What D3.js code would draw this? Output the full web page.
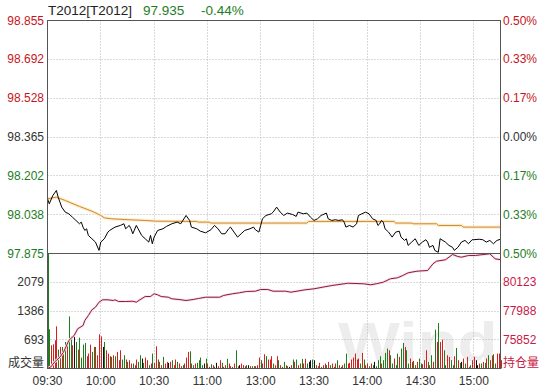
<!DOCTYPE html>
<html><head><meta charset="utf-8">
<script src="https://cdn.jsdelivr.net/npm/d3@7/dist/d3.min.js"></script>
<style>html,body{margin:0;padding:0;background:#fff;}svg{display:block;font-family:"Liberation Sans",Arial,sans-serif;}</style>
</head><body>
<svg id="c" width="548" height="389"></svg>
<script>
// ---------- data ----------
const titleCode = "T2012[T2012]";
const lastPrice = "97.935";
const lastChange = "-0.44%";
const priceTicks = [98.855, 98.692, 98.528, 98.365, 98.202, 98.038, 97.875];
const pctLabels = ["0.50%","0.33%","0.17%","0.00%","0.17%","0.33%","0.50%"];
const volTicks = [693, 1386, 2079];
const oiTicks = [75852, 77988, 80123];
const timeLabels = ["09:30","10:00","10:30","11:00","13:00","13:30","14:00","14:30","15:00"];
const timeIdx = [0,30,60,90,120,150,180,210,240];

// price line vertices [minute index, price]
const priceIdx = [0,1,3,5,6,8,10,12,14,16,18,19,20,21,22,23,25,27,29,30,32,34,35,38,41,43,44,46,47,48,50,51,53,55,57,58,59,60,62,65,67,70,73,75,78,80,81,84,86,89,92,94,96,98,100,102,103,105,107,109,111,114,116,117,119,120,121,123,126,127,129,131,133,135,138,140,141,144,146,148,150,152,154,157,158,160,162,164,166,167,168,170,172,174,175,177,179,181,183,185,186,187,188,189,190,192,194,196,198,199,201,202,203,205,207,209,211,213,214,215,217,218,220,221,224,226,228,229,231,233,235,237,239,240,243,245,247,249,251,253,255];
const priceVal = [98.105,98.084,98.119,98.140,98.112,98.070,98.049,98.042,98.028,98.014,98.000,98.007,97.986,97.972,97.979,97.951,97.937,97.923,97.888,97.923,97.937,97.965,97.972,97.986,97.993,98.000,97.979,97.993,97.979,97.958,97.993,97.979,97.951,97.937,97.923,97.951,97.916,97.944,97.972,97.979,97.989,98.000,98.007,98.000,98.035,98.014,97.986,97.979,97.969,97.962,97.975,97.993,97.979,97.958,97.958,97.979,97.986,97.965,97.944,97.958,97.972,97.979,97.986,97.975,97.965,97.993,98.021,98.035,98.042,98.049,98.070,98.049,98.035,98.045,98.039,98.031,98.049,98.042,98.045,98.028,98.014,98.021,98.035,98.045,98.021,98.014,98.017,98.014,98.017,98.007,97.986,97.993,97.986,98.000,98.035,98.042,98.049,98.042,98.021,98.014,97.993,98.000,98.014,98.007,97.979,97.965,97.944,97.965,97.969,97.944,97.930,97.937,97.909,97.923,97.937,97.909,97.923,97.933,97.923,97.901,97.909,97.888,97.880,97.937,97.923,97.909,97.901,97.888,97.901,97.923,97.930,97.916,97.933,97.933,97.935,97.933,97.923,97.930,97.916,97.930,97.935];

// average price line vertices
const avgIdx = [0,5,10,18,25,30,32,36,46,55,61,84,85,91,92,146,147,195,196,205,206,219,220,233,234,255];
const avgVal = [98.105,98.112,98.098,98.073,98.053,98.035,98.025,98.021,98.017,98.014,98.011,98.010,98.007,98.007,98.003,98.003,98.010,98.010,98.003,98.003,98.000,98.000,97.993,97.993,97.986,97.986];

// open interest vertices
const oiIdx = [0,2,4,7,9,12,15,17,20,21,23,25,27,29,31,34,37,38,40,44,48,50,52,55,58,60,62,64,68,70,74,78,82,85,89,97,99,104,108,112,117,120,124,127,134,137,145,150,160,167,169,178,182,185,189,193,197,200,203,208,214,217,219,224,228,231,233,237,241,244,249,252,255];
const oiVal = [73720,73850,74200,74556,74927,75796,76168,76665,76910,77282,77653,78077,78270,78641,78819,78819,78767,78819,78693,78693,78715,78641,78819,79064,79064,79265,79190,79064,79012,78893,78842,78767,78842,78917,79012,79012,79139,79265,79340,79436,79458,79584,79584,79458,79458,79384,79562,79636,79881,80008,80052,80008,79933,80008,80127,80379,80453,80624,80825,80944,80996,81493,81687,81791,82184,82036,81984,82110,82110,82162,82236,81865,81800];

// per-minute volume and bar colour (g = down, r = up, k = flat)
const volumes = [2772,
944,560,584,680,1016,456,520,520,440,
640,656,1256,776,560,776,640,456,744,
264,576,616,296,360,
576,400,520,520,320,
824,776,520,640,440,360,296,280,
320,296,400,200,440,216,320,216,160,200,120,120,80,
216,160,320,240,136,264,200,80,120,360,136,
536,216,160,80,280,120,160,136,160,
200,80,216,160,120,56,80,120,264,400,416,120,80,120,
136,200,264,80,120,240,120,40,104,80,40,136,56,200,
136,40,80,232,120,56,40,120,440,56,80,120,
80,56,80,80,56,56,56,56,80,
264,200,120,344,296,216,216,
296,120,80,296,200,
80,40,160,80,56,40,80,216,160,216,80,120,232,120,
232,120,160,200,216,200,80,56,136,40,80,120,80,160,
80,120,40,120,200,80,40,80,120,360,120,136,216,264,
360,216,240,120,376,216,80,120,56,120,80,160,56,
200,296,120,200,376,480,440,320,120,240,80,360,280,480,616,520,440,120,240,160,184,80,160,240,120,104,200,440,160,80,320,160,936,640,1096,640,696,440,80,320,280,
200,80,296,496,200,136,160,240,120,280,
40,80,200,280,200,80,120,120,160,136,240,
320,200,312,344,120,360,360,200];
const volColors = ("g " +
"g r r r r g r g r " +
"g r g g r k g r g " +
"g g g r r " +
"r g r g r " +
"r r k g r r r g " +
"r g r r r g g r g r r g r " +
"r g g k g r r g r g r " +
"r g r r g r r k r " +
"g r r g r r g r r r g r g r " +
"g g g g k g r r g r g k r r " +
"g r r g r r g r g r k r " +
"r r g k r g r g r " +
"r g r r g r r " +
"r g r r g " +
"r g g r g k r g r g r g g r " +
"r g k k g k r g r g r r g r " +
"g r g r g r g r g g r r r r " +
"r r r g r g r r g r g k g " +
"g g r g g g r g g r g g r g g r g g r g r g r g g r r r g r g r g r g r r g g r r " +
"g g r g r g k r g r " +
"r g r r k k r g r g r " +
"g r g r g r r r").trim().split(/\s+/);

// ---------- chart ----------
const L = 47.5, R = 500.5, T = 20.5, SEP = 253.5, B = 368.5;
const svg = d3.select("#c");
const x = d3.scaleLinear().domain([0, 255]).range([L, R]);
const yP = d3.scaleLinear().domain([97.875, 98.855]).range([SEP, T]);
const yV = d3.scaleLinear().domain([0, 2772]).range([B, SEP]);
const yO = d3.scaleLinear().domain([73716.5, 82258.5]).range([B, SEP]);
const snap = v => Math.round(v - 0.5) + 0.5;

const RED = "#c4161c", GREEN = "#1e7d24", GRAY = "#333333", CRIM = "#c81a47";

// watermark (kept inside the volume panel)
svg.append("text").attr("transform", "translate(338,361) scale(1.17,1)")
  .attr("font-size", 56).attr("font-weight", "bold").attr("fill", "#ededed").text("Wind");

// gridlines
const grid = svg.append("g").attr("stroke", "#b4b4b4").attr("stroke-dasharray", "1,2").attr("stroke-width", 1);
priceTicks.slice(1, -1).forEach(v => grid.append("line").attr("x1", L).attr("x2", R).attr("y1", snap(yP(v))).attr("y2", snap(yP(v))));
volTicks.forEach(v => grid.append("line").attr("x1", L).attr("x2", R).attr("y1", snap(yV(v))).attr("y2", snap(yV(v))));
timeIdx.slice(1).forEach(i => grid.append("line").attr("x1", snap(x(i))).attr("x2", snap(x(i))).attr("y1", T).attr("y2", B));

// volume bars
const cmap = {r: "#d81f1f", g: "#1c7f1c", k: "#111111"};
svg.append("g").selectAll("rect").data(volumes).join("rect")
  .attr("x", (d, i) => Math.round(x(i)))
  .attr("width", 1)
  .attr("y", d => yV(d))
  .attr("height", d => B - yV(d))
  .attr("fill", (d, i) => cmap[volColors[i]] || "#111");

// open interest line
const line = d3.line();
const oiPts = oiIdx.map((d, i) => [x(d), yO(oiVal[i])]);
svg.append("path").attr("d", line(oiPts)).attr("fill", "none").attr("stroke", "#f7dde4").attr("stroke-width", 2.6);
svg.append("path").attr("d", line(oiPts)).attr("fill", "none").attr("stroke", "#8f1a3c").attr("stroke-width", 1);

// average line
const avgPts = avgIdx.map((d, i) => [x(d), yP(avgVal[i])]);
svg.append("path").attr("d", line(avgPts)).attr("fill", "none").attr("stroke", "#fdeec6").attr("stroke-width", 3.2);
svg.append("path").attr("d", line(avgPts)).attr("fill", "none").attr("stroke", "#cf863c").attr("stroke-width", 1);

// price line
const pPts = priceIdx.map((d, i) => [x(d), yP(priceVal[i])]);
svg.append("path").attr("d", line(pPts)).attr("fill", "none").attr("stroke", "#000").attr("stroke-width", 1);

// frame
const frame = svg.append("g").attr("stroke", "#555").attr("stroke-width", 1).attr("fill", "none");
frame.append("rect").attr("x", L).attr("y", T).attr("width", R - L).attr("height", B - T);
frame.append("line").attr("x1", L).attr("x2", R).attr("y1", SEP).attr("y2", SEP);

// axis labels
const priceColor = i => i < 3 ? RED : (i === 3 ? GRAY : GREEN);
const lab = svg.append("g").attr("font-size", 12);
priceTicks.forEach((v, i) => {
  lab.append("text").attr("x", 44).attr("y", yP(v)).attr("dy", "0.35em").attr("text-anchor", "end")
    .attr("fill", priceColor(i)).text(v.toFixed(3));
  lab.append("text").attr("x", 503).attr("y", yP(v)).attr("dy", "0.35em").attr("text-anchor", "start")
    .attr("fill", priceColor(i)).text(pctLabels[i]);
});
volTicks.forEach(v => lab.append("text").attr("x", 44).attr("y", yV(v)).attr("dy", "0.35em")
  .attr("text-anchor", "end").attr("fill", GRAY).text(v));
oiTicks.forEach(v => lab.append("text").attr("x", 503).attr("y", yO(v)).attr("dy", "0.35em")
  .attr("text-anchor", "start").attr("fill", CRIM).text(v));
lab.append("text").attr("x", 44).attr("y", 363).attr("dy", "0.35em").attr("text-anchor", "end")
  .attr("fill", GRAY).attr("font-family", "'Noto Sans CJK SC',sans-serif").text("成交量");
lab.append("text").attr("x", 503).attr("y", 363).attr("dy", "0.35em").attr("text-anchor", "start")
  .attr("fill", CRIM).attr("font-family", "'Noto Sans CJK SC',sans-serif").text("持仓量");

// time labels
timeLabels.forEach((t, i) => lab.append("text").attr("x", x(timeIdx[i])).attr("y", 381).attr("dy", "0.35em")
  .attr("text-anchor", "middle").attr("fill", GRAY).text(t));

// title
const tt = svg.append("g").attr("font-size", 13.5);
tt.append("text").attr("x", 48).attr("y", 10).attr("dy", "0.35em").attr("fill", "#222").text(titleCode);
tt.append("text").attr("x", 143).attr("y", 10).attr("dy", "0.35em").attr("fill", GREEN).text(lastPrice);
tt.append("text").attr("x", 201).attr("y", 10).attr("dy", "0.35em").attr("fill", GREEN).text(lastChange);
</script>
</body></html>
